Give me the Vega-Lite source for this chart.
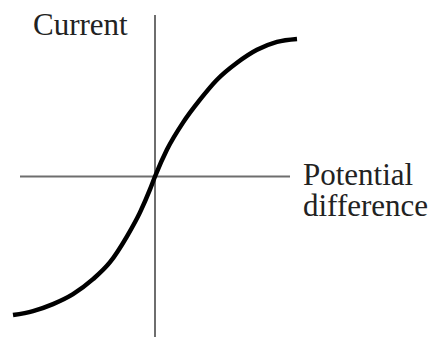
{
  "$schema": "https://vega.github.io/schema/vega-lite/v6.json",
  "width": 446,
  "height": 338,
  "padding": 0,
  "autosize": {"type": "fit", "contains": "padding"},
  "config": {"view": {"stroke": null}, "background": "white"},
  "datasets": {
    "curve": [
      {"v": -142, "i": -139}, {"v": -122, "i": -135}, {"v": -102, "i": -128},
      {"v": -82, "i": -118}, {"v": -62, "i": -103}, {"v": -45, "i": -86},
      {"v": -28, "i": -60}, {"v": -15, "i": -36}, {"v": -5, "i": -13},
      {"v": 0, "i": 0}, {"v": 12, "i": 27}, {"v": 28, "i": 54},
      {"v": 45, "i": 77}, {"v": 62, "i": 97}, {"v": 82, "i": 114},
      {"v": 102, "i": 127}, {"v": 122, "i": 135}, {"v": 142, "i": 138}
    ],
    "axes": [
      {"x1": 0, "x2": 0, "y1": -161, "y2": 162},
      {"x1": -135, "x2": 135, "y1": 0, "y2": 0}
    ],
    "labels": [
      {"lx": -122, "ly": 142, "t": "Current"},
      {"lx": 148, "ly": -9, "t": "Potential\ndifference"}
    ]
  },
  "layer": [
    {
      "data": {"name": "axes"},
      "mark": {"type": "rule", "color": "#6e6e6e", "strokeWidth": 2},
      "encoding": {
        "x": {"field": "x1", "type": "quantitative", "scale": {"domain": [-155, 291], "nice": false, "zero": false}, "axis": null},
        "x2": {"field": "x2"},
        "y": {"field": "y1", "type": "quantitative", "scale": {"domain": [-161, 177], "nice": false, "zero": false}, "axis": null},
        "y2": {"field": "y2"}
      }
    },
    {
      "data": {"name": "curve"},
      "mark": {"type": "line", "color": "#000000", "strokeWidth": 4.5, "interpolate": "monotone", "strokeCap": "butt"},
      "encoding": {
        "x": {"field": "v", "type": "quantitative", "scale": {"domain": [-155, 291], "nice": false, "zero": false}, "axis": null},
        "y": {"field": "i", "type": "quantitative", "scale": {"domain": [-161, 177], "nice": false, "zero": false}, "axis": null}
      }
    },
    {
      "data": {"name": "labels"},
      "mark": {"type": "text", "font": "Liberation Serif", "fontSize": 31, "color": "#222222", "align": "left", "baseline": "alphabetic", "lineBreak": "\n", "lineHeight": 31},
      "encoding": {
        "x": {"field": "lx", "type": "quantitative", "scale": {"domain": [-155, 291], "nice": false, "zero": false}, "axis": null},
        "y": {"field": "ly", "type": "quantitative", "scale": {"domain": [-161, 177], "nice": false, "zero": false}, "axis": null},
        "text": {"field": "t"}
      }
    }
  ]
}
